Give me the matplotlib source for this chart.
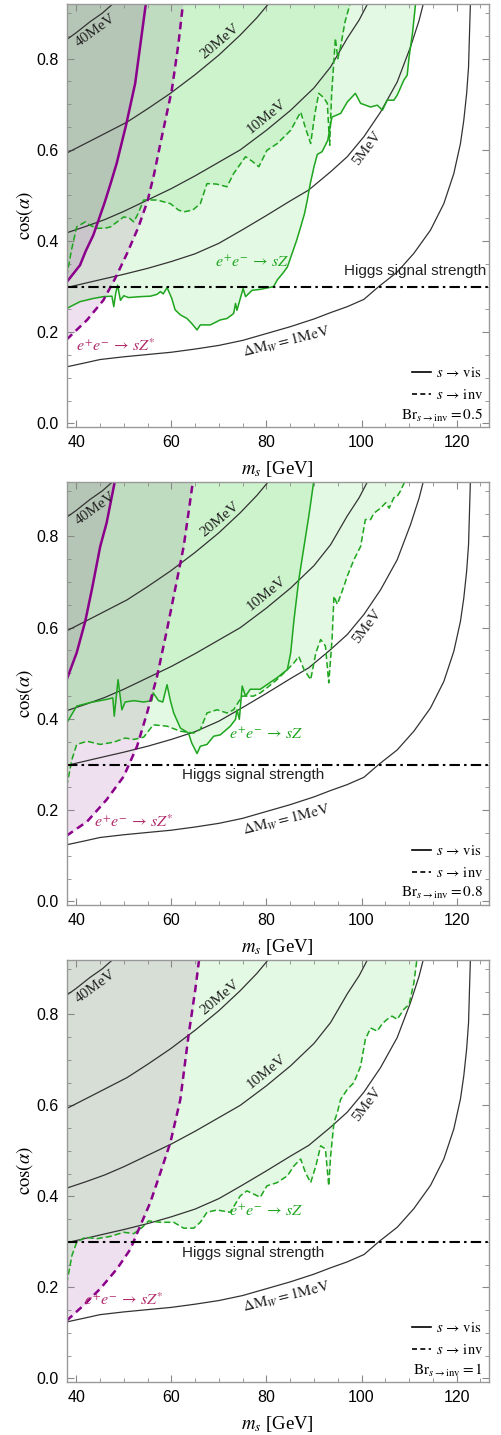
import matplotlib
matplotlib.use("Agg")
import matplotlib.pyplot as plt
from matplotlib.lines import Line2D
from matplotlib.ticker import MultipleLocator

plt.rcParams["font.family"] = ["Liberation Sans", "DejaVu Sans"]
plt.rcParams["mathtext.fontset"] = "stix"

# ========= DATA =========
# Delta M_W contours (same in all panels)
dmw1_m = [38, 42, 45, 50, 55, 60, 65, 70, 75, 80, 85, 90, 93.5, 97, 100.5, 103.6, 107.5, 111, 114.5,
          117.3, 119.4, 120.8, 121.5, 122.1, 122.5, 122.7, 122.9]
dmw1_c = [0.124, 0.133, 0.140, 0.146, 0.151, 0.156, 0.163, 0.171, 0.182, 0.197, 0.212, 0.229, 0.243,
          0.256, 0.272, 0.300, 0.332, 0.373, 0.424, 0.482, 0.548, 0.614, 0.665, 0.724, 0.782, 0.855, 0.925]
dmw5_m = [38, 45, 50, 55, 60, 65, 70, 75, 80, 85, 88.9, 93.5, 97, 100.5, 104, 107.5, 110.3, 112.1, 113.1]
dmw5_c = [0.298, 0.315, 0.327, 0.340, 0.355, 0.372, 0.395, 0.425, 0.456, 0.488, 0.512, 0.552, 0.585,
          0.629, 0.683, 0.749, 0.826, 0.884, 0.925]
dmw10_m = [38, 42, 46, 50, 54.2, 60, 65, 70, 74.5, 80, 85.1, 90, 93.5, 97, 99.5, 101.5]
dmw10_c = [0.418, 0.432, 0.447, 0.465, 0.486, 0.515, 0.543, 0.573, 0.600, 0.643, 0.687, 0.736, 0.782,
           0.845, 0.885, 0.925]
dmw20_m = [38, 44, 50.7, 55, 59.8, 65, 70, 74.5, 78, 80.8]
dmw20_c = [0.593, 0.625, 0.661, 0.690, 0.724, 0.765, 0.808, 0.852, 0.890, 0.925]
dmw40_m = [38, 40, 42.9, 45.5, 48.2]
dmw40_c = [0.842, 0.857, 0.881, 0.900, 0.925]

# Panel 1: Br(s->inv) = 0.5
p1_szs_vis_m = [38, 40.8, 42.0, 43.6, 44.5, 46.0, 47.2, 48.5, 50.5, 52.4, 53.8, 54.7]
p1_szs_vis_c = [0.31, 0.347, 0.378, 0.413, 0.44, 0.485, 0.525, 0.57, 0.655, 0.746, 0.855, 0.925]
p1_szs_inv_m = [38, 42.3, 45.7, 48.2, 50.7, 53.1, 55.0, 56.4, 57.7, 60.1, 61.5, 62.5]
p1_szs_inv_c = [0.184, 0.227, 0.270, 0.318, 0.373, 0.431, 0.488, 0.548, 0.614, 0.731, 0.833, 0.925]
p1_sz_vis_m = [38, 40.8, 43.6, 45.7, 47.5, 47.9, 48.3, 48.7, 49.3, 50, 51, 53.5, 55.6, 57.0, 57.7, 58.3,
               59.1, 60.1, 60.8, 61.9, 63.3, 64.3, 65.4, 66.1, 68.2, 70.3, 71.7, 73.1, 73.5, 73.8, 75.1,
               75.6, 77.0, 78.7, 81.5, 82.3, 83.5, 84.4, 85.4, 86.3, 87.2, 88.0, 88.6, 89.2, 90.0, 90.7,
               91.7, 92.9, 93.5, 93.8, 95.6, 97.0, 98.7, 99.8, 101.9, 103.3, 104.4, 105.4, 106.8, 107.5,
               108.9, 109.6, 110.0, 110.7, 111.4]
p1_sz_vis_c = [0.252, 0.267, 0.274, 0.278, 0.279, 0.256, 0.285, 0.303, 0.27, 0.28, 0.276, 0.278, 0.279,
               0.283, 0.289, 0.284, 0.298, 0.274, 0.249, 0.238, 0.23, 0.219, 0.205, 0.216, 0.216, 0.227,
               0.23, 0.241, 0.263, 0.248, 0.296, 0.278, 0.292, 0.294, 0.3, 0.315, 0.33, 0.343, 0.373,
               0.40, 0.431, 0.46, 0.49, 0.525, 0.563, 0.59, 0.596, 0.621, 0.658, 0.672, 0.68, 0.705,
               0.724, 0.702, 0.694, 0.698, 0.687, 0.709, 0.709, 0.72, 0.753, 0.764, 0.804, 0.855, 0.925]
p1_sz_inv_m = [38, 39.0, 40.1, 41.9, 43.0, 44.4, 46.0, 47.2, 50.0, 51.2, 52.1, 53.0, 54.2, 57.0, 59.8,
               61.5, 62.6, 64.5, 66.1, 67.5, 69.5, 71.7, 73.1, 75.6, 77.0, 78.4, 80.1, 82.3, 85.1, 87.2,
               88.3, 89.3, 90.2, 91.0, 92.0, 92.8, 93.3, 93.7, 94.5, 95.0, 95.6, 96.5, 97.7]
p1_sz_inv_c = [0.322, 0.38, 0.431, 0.442, 0.434, 0.428, 0.428, 0.431, 0.453, 0.45, 0.442, 0.46, 0.49,
               0.49, 0.482, 0.468, 0.464, 0.468, 0.482, 0.526, 0.525, 0.519, 0.548, 0.585, 0.575, 0.563,
               0.599, 0.614, 0.643, 0.683, 0.645, 0.614, 0.68, 0.724, 0.715, 0.702, 0.61, 0.72, 0.845,
               0.80, 0.826, 0.88, 0.925]

# Panel 2: Br(s->inv) = 0.8
p2_szs_vis_m = [38, 40.1, 41.9, 43.3, 45.05, 46.4, 48.2]
p2_szs_vis_c = [0.486, 0.545, 0.614, 0.684, 0.778, 0.83, 0.925]
p2_szs_inv_m = [38, 42.3, 46.4, 50.0, 52.8, 54.9, 57.0, 59.1, 61.2, 62.6, 63.6, 64.6]
p2_szs_inv_c = [0.144, 0.175, 0.223, 0.274, 0.340, 0.413, 0.493, 0.596, 0.705, 0.778, 0.851, 0.925]
p2_sz_vis_m = [38, 40.1, 43.0, 46.5, 47.7, 48.0, 48.8, 49.6, 50.3, 52.1, 54.2, 55.9, 56.2, 57.3, 58.2,
               59.1, 59.8, 60.5, 61.9, 63.6, 64.3, 65.4, 66.1, 67.5, 68.9, 70.3, 72.4, 73.5, 73.8, 74.3,
               74.9, 75.6, 76.6, 78.7, 80.1, 82.2, 84.4, 85.1, 85.8, 86.8, 87.9, 88.9, 89.3, 90.0]
p2_sz_vis_c = [0.391, 0.428, 0.436, 0.443, 0.446, 0.406, 0.486, 0.42, 0.437, 0.44, 0.437, 0.44, 0.457,
               0.44, 0.437, 0.475, 0.44, 0.413, 0.38, 0.369, 0.347, 0.324, 0.34, 0.344, 0.362, 0.365,
               0.384, 0.399, 0.42, 0.399, 0.472, 0.45, 0.465, 0.465, 0.475, 0.49, 0.508, 0.545, 0.618,
               0.705, 0.778, 0.844, 0.873, 0.925]
p2_sz_inv_m = [38, 39.1, 40.1, 42.3, 45.05, 47.9, 50.3, 52.1, 54.2, 56.2, 59.1, 61.9, 64.7, 66.1, 67.5,
               69.6, 71.7, 73.1, 74.9, 77.3, 78.7, 80.1, 82.2, 84.4, 85.8, 86.8, 87.9, 89.3, 90.4, 91.4,
               92.4, 93.1, 93.8, 94.2, 94.9, 96.3, 97.0, 98.4, 99.8, 100.8, 101.9, 102.6, 104.0, 105.1,
               105.8, 106.8, 107.5, 108.2, 109.3]
p2_sz_inv_c = [0.252, 0.311, 0.344, 0.351, 0.344, 0.349, 0.358, 0.355, 0.36, 0.387, 0.384, 0.373, 0.369,
               0.377, 0.413, 0.42, 0.413, 0.42, 0.45, 0.45, 0.457, 0.468, 0.486, 0.508, 0.523, 0.537,
               0.508, 0.486, 0.545, 0.574, 0.56, 0.479, 0.574, 0.669, 0.651, 0.691, 0.713, 0.749, 0.778,
               0.837, 0.837, 0.851, 0.862, 0.874, 0.862, 0.885, 0.888, 0.90, 0.925]

# Panel 3: Br(s->inv) = 1
p3_szs_inv_m = [38, 41.5, 45.05, 48.6, 51.4, 53.5, 55.6, 57.7, 59.8, 61.9, 63.6, 65.05, 65.9]
p3_szs_inv_c = [0.127, 0.160, 0.197, 0.241, 0.284, 0.336, 0.387, 0.452, 0.518, 0.613, 0.752, 0.855, 0.925]
p3_sz_inv_m = [38, 39.1, 40.1, 41.9, 44.4, 47.2, 50.0, 52.1, 53.9, 55.2, 57.7, 60.5, 62.6, 64.7, 66.1,
               67.5, 69.6, 72.4, 74.5, 75.9, 77.3, 78.7, 80.1, 82.2, 84.4, 85.8, 87.2, 88.2, 89.3, 90.4,
               91.4, 92.4, 93.1, 93.5, 94.2, 94.9, 95.6, 97.0, 98.4, 99.8, 100.8, 101.9, 103.3, 104.4,
               105.4, 106.4, 107.5, 108.9, 110.0, 111.0, 111.7]
p3_sz_inv_c = [0.208, 0.27, 0.299, 0.31, 0.307, 0.312, 0.321, 0.318, 0.332, 0.346, 0.343, 0.343, 0.33,
               0.33, 0.343, 0.365, 0.37, 0.365, 0.401, 0.412, 0.405, 0.398, 0.423, 0.43, 0.445, 0.467,
               0.482, 0.452, 0.43, 0.467, 0.511, 0.504, 0.423, 0.489, 0.562, 0.584, 0.613, 0.635, 0.65,
               0.686, 0.745, 0.77, 0.763, 0.78, 0.789, 0.796, 0.789, 0.811, 0.822, 0.869, 0.925]

br_values = ["0.5", "0.8", "1"]
higgs_cut = 0.3
# ================================================

XLIM = (38, 126.8)
YLIM = (-0.008, 0.92)

PURPLE = "#8b008b"
GREEN = "#1fa51f"
FILL_PURPLE = (0.5, 0.0, 0.5, 0.12)
FILL_GREEN = (0.2, 0.82, 0.2, 0.13)
CONTOUR = "#333333"
SERIF = ["Liberation Serif", "DejaVu Serif"]


def draw_panel(ax, szs_vis, szs_inv, sz_vis, sz_inv, br, higgs_above):
    top = YLIM[1] + 0.01
    # excluded regions, purple (sZ*) first, green (sZ) on top
    for m, c in (szs_vis, szs_inv):
        if m is not None:
            ax.fill_betweenx(c, XLIM[0], m, color=FILL_PURPLE, lw=0)
    for m, c in (sz_vis, sz_inv):
        if m is not None:
            ax.fill_between(m, c, top, color=FILL_GREEN, lw=0)

    # Delta M_W contours
    for m, c in [(dmw1_m, dmw1_c), (dmw5_m, dmw5_c), (dmw10_m, dmw10_c),
                 (dmw20_m, dmw20_c), (dmw40_m, dmw40_c)]:
        ax.plot(m, c, color=CONTOUR, lw=0.9)

    # boundaries
    if sz_vis[0] is not None:
        ax.plot(*sz_vis, color=GREEN, lw=1.1)
    ax.plot(*sz_inv, color=GREEN, lw=1.1, ls=(0, (4, 2)))
    if szs_vis[0] is not None:
        ax.plot(*szs_vis, color=PURPLE, lw=1.8)
    ax.plot(*szs_inv, color=PURPLE, lw=1.8, ls=(0, (3, 2)))

    ax.axhline(higgs_cut, color="black", lw=1.5, ls=(0, (5, 2, 1.2, 2)))

    # contour labels
    lab = dict(family=SERIF, fontsize=11, color="#222222", ha="center", va="center")
    ax.text(44.0, 0.862, "40MeV", rotation=36, **lab)
    ax.text(70.3, 0.838, "20MeV", rotation=40, **lab)
    ax.text(80.1, 0.674, "10MeV", rotation=39, **lab)
    ax.text(101.2, 0.603, "5MeV", rotation=53, **lab)
    ax.text(84.3, 0.179, r"$\Delta\mathrm{M}_W = 1\mathrm{MeV}$", rotation=14, **lab)

    # region labels
    if higgs_above:
        ax.text(111.2, 0.334, "Higgs signal strength", fontsize=11, color="#222222",
                ha="center", va="center")
    else:
        ax.text(77.2, 0.276, "Higgs signal strength", fontsize=11, color="#222222",
                ha="center", va="center")
    sz_pos = (76.9, 0.353) if higgs_above else (80.0, 0.367)
    ax.text(*sz_pos, r"$e^{+}e^{-}\,\rightarrow\,sZ$", fontsize=11.5, color=GREEN,
            ha="center", va="center")
    szs_pos = {"0.5": (48.4, 0.170), "0.8": (52.1, 0.174), "1": (50.0, 0.173)}[br]
    ax.text(*szs_pos, r"$e^{+}e^{-}\,\rightarrow\,sZ^{*}$", fontsize=11.5, color="#b02a6a",
            ha="center", va="center")

    # legend
    handles = [Line2D([], [], color="black", lw=1.2),
               Line2D([], [], color="black", lw=1.2, ls=(0, (3, 2)))]
    ax.legend(handles, [r"$s\,\rightarrow\,\mathrm{vis}$", r"$s\,\rightarrow\,\mathrm{inv}$"],
              loc="lower right", bbox_to_anchor=(1.0, 0.045), frameon=False,
              fontsize=10.5, handlelength=1.35, handletextpad=0.3, labelspacing=0.55,
              borderpad=0.2, borderaxespad=0.2)
    ax.text(0.985, 0.028, r"$\mathrm{Br}_{s\rightarrow\mathrm{inv}}=" + br + "$",
            transform=ax.transAxes, fontsize=11, ha="right", va="center")

    ax.set_xlim(*XLIM)
    ax.set_ylim(*YLIM)
    ax.xaxis.set_major_locator(MultipleLocator(20))
    ax.xaxis.set_minor_locator(MultipleLocator(5))
    ax.yaxis.set_major_locator(MultipleLocator(0.2))
    ax.yaxis.set_minor_locator(MultipleLocator(0.05))
    ax.tick_params(which="both", direction="in", top=True, right=True, color="#888888",
                   labelsize=11.5, pad=6)
    ax.tick_params(which="major", length=5, width=0.8)
    ax.tick_params(which="minor", length=3, width=0.6)
    ax.set_yticks([0.0, 0.2, 0.4, 0.6, 0.8])
    ax.set_yticklabels(["0.0", "0.2", "0.4", "0.6", "0.8"])
    for sp in ax.spines.values():
        sp.set_color("#999999")
        sp.set_linewidth(1.0)
    ax.set_xlabel(r"$m_s$ [GeV]", family=SERIF, fontsize=13.5, labelpad=6)
    ax.set_ylabel(r"$\cos(\alpha)$", family=SERIF, fontsize=13.5, labelpad=1)


fig = plt.figure(figsize=(5.02, 14.35), dpi=100)
W, H = 502.0, 1435.0
rects = [(66.7, 4.0, 489.0, 427.0), (66.7, 481.7, 489.0, 905.0), (66.7, 959.7, 489.0, 1382.0)]
axes = [fig.add_axes([l / W, 1 - b / H, (r - l) / W, (b - t) / H]) for l, t, r, b in rects]

draw_panel(axes[0], (p1_szs_vis_m, p1_szs_vis_c), (p1_szs_inv_m, p1_szs_inv_c),
           (p1_sz_vis_m, p1_sz_vis_c), (p1_sz_inv_m, p1_sz_inv_c), br_values[0], True)
draw_panel(axes[1], (p2_szs_vis_m, p2_szs_vis_c), (p2_szs_inv_m, p2_szs_inv_c),
           (p2_sz_vis_m, p2_sz_vis_c), (p2_sz_inv_m, p2_sz_inv_c), br_values[1], False)
draw_panel(axes[2], (None, None), (p3_szs_inv_m, p3_szs_inv_c),
           (None, None), (p3_sz_inv_m, p3_sz_inv_c), br_values[2], False)

fig.savefig("out.png", dpi=100)
